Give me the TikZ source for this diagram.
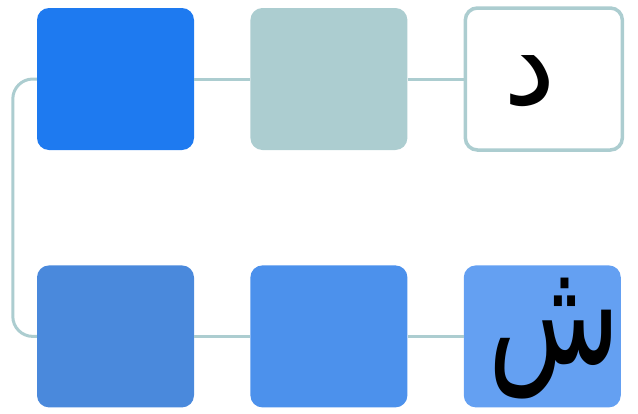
\documentclass[tikz,border=0pt]{standalone}
\usepackage{fontspec}
\usetikzlibrary{positioning}
\TeXXeTstate=1
\newfontfamily\arabicfont[Script=Arabic]{DejaVu Sans}
\definecolor{deepblue}{RGB}{30, 122, 240}
\definecolor{midblue}{RGB}{74, 137, 220}
\definecolor{brightblue}{RGB}{76, 145, 236}
\definecolor{paleblue}{RGB}{100, 160, 242}
\definecolor{tealgrey}{RGB}{172, 205, 208}

\begin{document}
\begin{tikzpicture}[
    x=1pt, y=-1pt,
    node distance=56pt and 56pt,
    box/.style={rectangle, rounded corners=12pt, minimum width=157pt, minimum height=142pt, inner sep=0pt},
    link/.style={draw=tealgrey, line width=3pt},
    letter/.style={inner sep=0pt}
]
    \useasboundingbox (0,0) rectangle (638,413);

    % Top row
    \node[box, fill=deepblue] (tl) at (115.5,79) {};
    \node[box, fill=tealgrey, right=of tl] (tm) {};
    \node[box, fill=white, draw=tealgrey, line width=3.5pt, right=of tm] (tr) {};

    % Bottom row
    \node[box, fill=midblue, below=115pt of tl] (bl) {};
    \node[box, fill=brightblue, right=of bl] (bm) {};
    \node[box, fill=paleblue, right=of bm] (br) {};

    % Letters
    \node[letter, font=\arabicfont\fontsize{118}{124}\selectfont] (dal) at ([xshift=-14pt, yshift=-2pt]tr.center) {\beginR د\endR};
    \node[letter, font=\arabicfont\fontsize{108}{114}\selectfont, yscale=1.35, transform shape] (shin) at ([xshift=12pt, yshift=-2pt]br.center) {\beginR ش\endR};

    % Links
    \draw[link] (tl) -- (tm);
    \draw[link] (tm) -- (tr);
    \draw[link] (bl) -- (bm);
    \draw[link] (bm) -- (br);
    \draw[link, rounded corners=20pt] (tl.west) -- ++(-24,0) |- (bl.west);
\end{tikzpicture}
\end{document}
